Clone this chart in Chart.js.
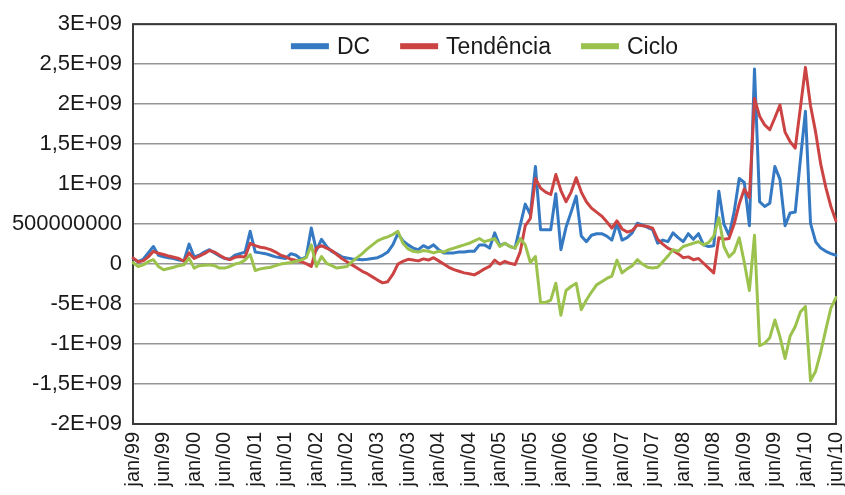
<!DOCTYPE html>
<html>
<head>
<meta charset="utf-8">
<script src="https://cdn.jsdelivr.net/npm/chart.js@4.4.1/dist/chart.umd.min.js"></script>
<style>
  html, body { margin: 0; padding: 0; background: #ffffff; }
  #wrap { width: 845px; height: 495px; }
</style>
</head>
<body>
<div id="wrap"><canvas id="c" width="845" height="495"></canvas></div>
<script>
// Values are in units of 1E+08
const UNIT = 1e8;

const seriesNames = ['DC', 'Tendência', 'Ciclo'];

const xTickLabels = ['jan/99','jun/99','jan/00','jun/00','jan/01','jun/01','jan/02','jun/02',
  'jan/03','jun/03','jan/04','jun/04','jan/05','jun/05','jan/06','jun/06','jan/07','jun/07',
  'jan/08','jun/08','jan/09','jun/09','jan/10','jun/10'];

const yTickLabels = ['-2E+09','-1,5E+09','-1E+09','-5E+08','0','500000000','1E+09','1,5E+09','2E+09','2,5E+09','3E+09'];

const dcValues = [
  0.7, 0.3, 0.6, 1.4, 2.2, 1.1, 0.9, 0.8, 0.7, 0.5,
  0.4, 2.5, 0.9, 1.1, 1.5, 1.8, 1.4, 1.0, 0.7, 0.6,
  1.1, 1.3, 1.5, 4.1, 1.5, 1.4, 1.3, 1.1, 0.9, 0.8,
  0.7, 1.3, 1.1, 0.6, 0.9, 4.5, 1.7, 3.1, 2.2, 1.6,
  1.3, 0.9, 0.75, 0.65, 0.6, 0.55, 0.6, 0.7, 0.8, 1.1,
  1.5, 2.4, 3.8, 2.9, 2.4, 2.0, 1.8, 2.3, 2.0, 2.4,
  1.8, 1.4, 1.4, 1.4, 1.5, 1.5, 1.6, 1.6, 2.4, 2.4,
  2.0, 3.9, 2.3, 2.6, 2.2, 2.0, 4.8, 7.5, 6.2, 12.2,
  4.3, 4.3, 4.3, 8.8, 1.8, 4.6, 6.5, 8.5, 3.5, 2.8,
  3.6, 3.8, 3.8, 3.5, 3.0, 5.1, 3.0, 3.3, 3.9, 5.1,
  4.9, 4.6, 4.3, 2.6, 3.0, 2.8, 3.9, 3.3, 2.8, 3.8,
  3.1, 3.8, 2.4, 2.2, 2.3, 9.1, 5.0, 3.6, 6.5, 10.7,
  10.2, 4.8, 24.4, 7.8, 7.2, 7.6, 12.2, 10.6, 4.8, 6.4,
  6.5, 13.0, 19.1, 5.1, 2.8, 2.0, 1.6, 1.3, 1.1
];

const trendValues = [
  0.75, 0.3, 0.4, 0.9, 1.6, 1.35, 1.2, 1.0, 0.85, 0.7,
  0.35, 1.4, 0.7, 1.0, 1.3, 1.7, 1.5, 1.1, 0.75, 0.55,
  0.85, 0.95, 0.9, 2.6, 2.3, 2.1, 2.0, 1.8, 1.5, 1.1,
  0.9, 0.6, 0.45, 0.3, 0.05, -0.3, 2.0, 2.3, 2.0, 1.7,
  1.2, 0.7, 0.3, -0.1, -0.5, -0.9, -1.2, -1.6, -2.0, -2.35,
  -2.2, -1.3, 0.0, 0.35, 0.6, 0.5, 0.4, 0.65, 0.5, 0.8,
  0.4, 0.0, -0.4, -0.7, -0.9, -1.1, -1.2, -1.35, -1.0, -0.6,
  -0.3, 0.5, 0.0, 0.35, 0.1, -0.05, 1.5, 4.8, 5.7, 10.7,
  9.5, 9.0, 8.7, 11.2, 9.2, 7.8, 9.0, 10.8, 9.0, 7.8,
  7.0, 6.5, 6.0, 5.3, 4.5, 5.4, 4.4, 4.0, 4.2, 4.9,
  4.8, 4.7, 4.5, 3.1, 2.5, 2.0, 1.7, 1.3, 0.8, 0.9,
  0.55, 0.7, 0.1, -0.5, -1.1, 3.3, 3.1, 3.2, 5.0, 7.5,
  9.4, 8.3, 20.7, 18.5, 17.4, 16.8, 18.3, 19.9, 16.5, 15.3,
  14.5, 19.5, 24.6, 19.8, 16.5, 12.5, 9.6, 7.2, 5.4
];

const cycleValues = [
  0.2, -0.3, -0.1, 0.3, 0.55, -0.3, -0.7, -0.55, -0.4, -0.2,
  -0.1, 0.75, -0.5, -0.2, -0.15, -0.1, -0.2, -0.5, -0.5, -0.3,
  0.0, 0.15, 0.5, 1.2, -0.8, -0.6, -0.5, -0.4, -0.2, 0.0,
  0.1, 0.2, 0.35, 0.5, 0.8, 2.4, -0.3, 0.95, 0.1, -0.2,
  -0.5, -0.4, -0.3, 0.3, 0.8, 1.3, 1.9, 2.4, 2.9, 3.2,
  3.4, 3.7, 4.1, 2.6, 1.9, 1.6, 1.5, 1.7, 1.6, 1.4,
  1.6, 1.5, 1.8, 2.0, 2.2, 2.4, 2.6, 2.9, 3.2, 2.8,
  3.0, 3.2, 2.2, 2.6, 2.2, 2.0, 3.2, 2.4, 0.2, 0.95,
  -4.8, -4.8, -4.5, -2.4, -6.4, -3.3, -2.8, -2.4, -5.7, -4.5,
  -3.5, -2.6, -2.2, -1.8, -1.5, 0.5, -1.1, -0.6, -0.2, 0.55,
  0.0, -0.4, -0.5, -0.4, 0.3, 1.0, 1.8, 1.6, 2.2, 2.4,
  2.6, 2.8, 2.4, 2.7, 3.5, 5.8, 2.2, 0.9, 1.5, 3.3,
  0.2, -3.3, 3.6, -10.2, -9.9, -9.2, -7.0, -9.1, -11.8, -9.0,
  -7.8, -6.0, -5.3, -14.6, -13.4, -11.0, -8.2, -5.5, -4.2
];

const colors = ['#3479C2', '#CC4343', '#9CC24E'];
const LABEL_EVERY = 6;

const categories = dcValues.map((_, i) => i);

const frame = {
  id: 'frame',
  beforeDatasetsDraw(chart) {
    const a = chart.chartArea, ctx = chart.ctx;
    ctx.save();
    ctx.strokeStyle = '#3a3a3a';
    ctx.lineWidth = 2;
    ctx.strokeRect(a.left, a.top, a.right - a.left, a.bottom - a.top);
    ctx.restore();
  }
};

// Horizontal legend drawn inside the top of the plot area
const insideLegend = {
  id: 'insideLegend',
  afterDraw(chart) {
    const a = chart.chartArea, ctx = chart.ctx;
    const boxW = 38, boxH = 6, gap = 8, itemGap = 30;
    ctx.save();
    ctx.font = '23px "Liberation Sans"';
    ctx.textBaseline = 'middle';
    const items = chart.data.datasets.map(ds => ({
      text: ds.label, color: ds.borderColor, w: boxW + gap + ctx.measureText(ds.label).width
    }));
    const total = items.reduce((s, it) => s + it.w, 0) + itemGap * (items.length - 1);
    let x = (a.left + a.right) / 2 - total / 2;
    const yc = a.top + 22;
    items.forEach(it => {
      ctx.fillStyle = it.color;
      ctx.fillRect(x, yc - boxH / 2, boxW, boxH);
      ctx.fillStyle = '#1a1a1a';
      ctx.fillText(it.text, x + boxW + gap, yc + 1);
      x += it.w + itemGap;
    });
    ctx.restore();
  }
};

const mk = (i, vals, order) => ({
  label: seriesNames[i],
  data: vals.map(v => v * UNIT),
  borderColor: colors[i],
  backgroundColor: colors[i],
  borderWidth: 3,
  pointRadius: 0,
  tension: 0,
  borderJoinStyle: 'round',
  borderCapStyle: 'round',
  order: order
});

new Chart(document.getElementById('c'), {
  type: 'line',
  data: {
    labels: categories,
    datasets: [mk(0, dcValues, 3), mk(1, trendValues, 2), mk(2, cycleValues, 1)]
  },
  plugins: [frame, insideLegend],
  options: {
    responsive: false,
    animation: false,
    layout: { padding: { top: 20, right: 9, left: 0, bottom: 0 } },
    plugins: {
      tooltip: { enabled: false },
      legend: { display: false }
    },
    scales: {
      x: {
        type: 'category',
        offset: false,
        grid: { display: false, drawTicks: false },
        border: { display: false },
        afterFit: (s) => { s.height = 71; s.paddingRight = 0; s.paddingLeft = 0; },
        ticks: {
          autoSkip: false,
          maxRotation: 90,
          minRotation: 90,
          padding: 8,
          color: '#1a1a1a',
          font: { family: 'Liberation Sans', size: 20 },
          callback: (v, i) => (i % LABEL_EVERY === 0 ? xTickLabels[i / LABEL_EVERY] : null)
        }
      },
      y: {
        min: -2e9,
        max: 3e9,
        afterFit: (s) => { s.width = 133; },
        grid: { color: '#959595', lineWidth: 1.5, drawTicks: false },
        border: { display: false },
        ticks: {
          stepSize: 5e8,
          padding: 11,
          color: '#1a1a1a',
          font: { family: 'Liberation Sans', size: 22 },
          callback: (v) => yTickLabels[Math.round((v + 2e9) / 5e8)]
        }
      }
    }
  }
});
</script>
</body>
</html>
